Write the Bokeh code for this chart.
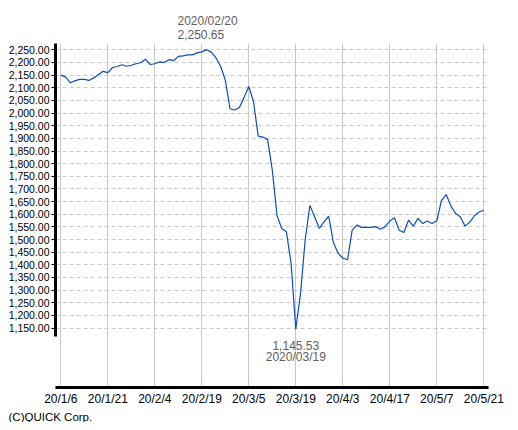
from bokeh.plotting import figure
from bokeh.models import FixedTicker, NumeralTickFormatter, Label, Range1d, Title
from bokeh.embed import file_html
from bokeh.resources import INLINE

# Trading days (2020) by month
jan = [6, 7, 8, 9, 10, 14, 15, 16, 17, 20, 21, 22, 23, 24, 27, 28, 29, 30, 31]
feb = [3, 4, 5, 6, 7, 10, 12, 13, 14, 17, 18, 19, 20, 21, 25, 26, 27, 28]
mar = [2, 3, 4, 5, 6, 9, 10, 11, 12, 13, 16, 17, 18, 19, 23, 24, 25, 26, 27, 30, 31]
apr = [1, 2, 3, 6, 7, 8, 9, 10, 13, 14, 15, 16, 17, 20, 21, 22, 23, 24, 27, 28, 30]
may = [1, 7, 8, 11, 12, 13, 14, 15, 18, 19, 20, 21]

prices = [
    2150, 2143, 2120, 2127, 2133, 2133, 2129, 2139, 2152, 2165,
    2160, 2180, 2184, 2191, 2185, 2189, 2195, 2199, 2213, 2192,
    2195, 2202, 2200, 2211, 2207, 2224, 2226, 2230, 2230, 2238,
    2242, 2250.65, 2241, 2219, 2185, 2130, 2017, 2012, 2022, 2062,
    2105, 2045, 1909, 1905, 1895, 1775, 1595, 1544, 1531, 1405,
    1145.53, 1286, 1500, 1635, 1590, 1544, 1570, 1592, 1488, 1446,
    1427, 1420, 1537, 1557, 1548, 1548, 1548, 1551, 1541, 1551,
    1573, 1586, 1537, 1528, 1577, 1553, 1584, 1563, 1573, 1563,
    1574, 1655, 1678, 1633, 1603, 1590, 1553, 1568, 1594, 1609,
    1616,
]

y_ticks = list(range(1150, 2251, 50))
x_ticks = list(range(0, 91, 10))
copyright_text = "(C)QUICK Corp."

dates = ([(1, d) for d in jan] + [(2, d) for d in feb] + [(3, d) for d in mar]
         + [(4, d) for d in apr] + [(5, d) for d in may])
short_labels = [f"20/{m}/{d}" for m, d in dates]
long_labels = [f"2020/{m:02d}/{d:02d}" for m, d in dates]
xs = list(range(len(prices)))

FONT = "Liberation Sans"

x_lo, x_hi = -1.13, 91.0
y_lo, y_hi = 915, 2275
W, H = 510, 422
B_LEFT, B_RIGHT, B_TOP, B_BOTTOM = 55, 22, 43, 31
frame_w = W - B_LEFT - B_RIGHT

p = figure(width=W, height=H, output_backend="svg", toolbar_location=None,
           x_range=Range1d(x_lo, x_hi), y_range=Range1d(y_lo, y_hi),
           min_border_left=B_LEFT, min_border_right=B_RIGHT, min_border_top=B_TOP,
           min_border_bottom=B_BOTTOM)
p.outline_line_color = None
p.background_fill_color = "white"
p.border_fill_color = "white"

p.line(xs, prices, line_color="#0a4fb5", line_width=1.2)

# grids
p.xgrid.ticker = FixedTicker(ticks=x_ticks)
p.xgrid.grid_line_color = "#c8c8c8"
p.xgrid.grid_line_width = 1
p.ygrid.ticker = FixedTicker(ticks=y_ticks)
p.ygrid.grid_line_color = "#c8c8c8"
p.ygrid.grid_line_dash = "4 3"

# y axis
ya = p.yaxis[0]
ya.ticker = FixedTicker(ticks=y_ticks)
ya.formatter = NumeralTickFormatter(format="0,0.00")
ya.bounds = (1115, y_hi)
ya.axis_line_width = 3
ya.axis_line_color = "black"
ya.major_tick_in = 0
ya.major_tick_out = 4
ya.minor_tick_in = 0
ya.minor_tick_out = 0
ya.major_label_standoff = 2
ya.major_label_text_font = FONT
ya.major_label_text_font_size = "10.5px"
ya.major_label_text_color = "black"

# x axis
xa = p.xaxis[0]
xa.ticker = FixedTicker(ticks=x_ticks)
xa.major_label_overrides = {i: short_labels[i] for i in x_ticks}
xa.axis_line_width = 3
xa.axis_line_color = "black"
xa.major_tick_in = 0
xa.major_tick_out = 0
xa.minor_tick_in = 0
xa.minor_tick_out = 0
xa.major_label_standoff = 4
xa.major_label_text_font = FONT
xa.major_label_text_font_size = "12px"
xa.major_label_text_color = "black"

# high annotation (above the frame) as a two-line title
i_hi = prices.index(max(prices))
hi_px = (i_hi - x_lo) / (x_hi - x_lo) * frame_w
p.add_layout(Title(text=f"{long_labels[i_hi]}\n{prices[i_hi]:,.2f}",
                   align="left", offset=hi_px - 29, standoff=4,
                   text_font=FONT, text_font_size="12px", text_font_style="normal",
                   text_color="#5e5e5e", text_line_height=1.0), "above")

# low annotation (inside the frame)
i_lo = prices.index(min(prices))
for txt, dy in ((f"{prices[i_lo]:,.2f}", -16), (long_labels[i_lo], -28)):
    p.add_layout(Label(x=i_lo, y=prices[i_lo], text=txt, y_offset=dy,
                       text_align="center", text_baseline="alphabetic",
                       text_font=FONT, text_font_size="12px",
                       text_color="#5e5e5e"))

# copyright under the axis
p.add_layout(Title(text=copyright_text, align="left", offset=-(B_LEFT - 8), standoff=0,
                   text_font=FONT, text_font_size="11.5px", text_font_style="normal",
                   text_color="black"), "below")

open("out.html", "w").write(file_html(p, INLINE))
